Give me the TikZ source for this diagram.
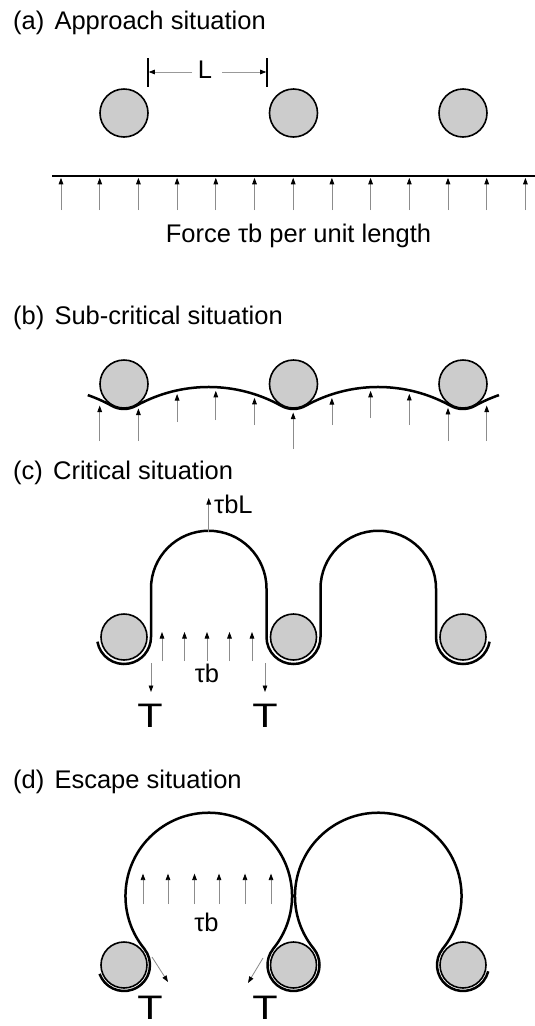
\documentclass[tikz,border=0pt]{standalone}
\usepackage{fontspec}
\setmainfont{Liberation Sans}
\usetikzlibrary{arrows.meta}
\begin{document}
\begin{tikzpicture}[x=1pt,y=1pt,
  obst/.style={circle,draw=black,line width=1.6pt,fill=black!20,minimum size=#1,inner sep=0pt},
  obst/.default=48pt,
  disl/.style={line width=2.5pt},
  force/.style={draw=black!45,line width=0.8pt,-{Triangle[length=6.5pt,width=4.6pt,color=black]}},
  dimarrow/.style={draw=black!40,line width=0.7pt,-{Triangle[length=6pt,width=4.6pt,color=black]}},
  title/.style={anchor=base west,font=\fontsize{25.5}{30}\selectfont,inner sep=0pt},
  lab/.style={anchor=base,font=\fontsize{25.5}{30}\selectfont,inner sep=0pt},
  tlabel/.style={anchor=base,font=\fontsize{34}{38}\selectfont,inner sep=0pt},
]
\clip (0,0) rectangle (535,-1026);
\fill[white] (0,0) rectangle (535,-1026);

% ---------------- (a) ----------------
\node[title] (ta) at (13,-29) {(a)\hspace{0.4em}Approach situation};
\node[obst] (a1) at (124,-113) {};
\node[obst] (a2) at (293.5,-113) {};
\node[obst] (a3) at (463,-113) {};
\coordinate (lineL) at (52,-176);
\coordinate (lineR) at (536,-176);
\draw[line width=2.5pt] (lineL) -- (lineR);
\foreach \k in {0,...,12}
  \draw[force] ({61+38.7*\k},-210) -- ({61+38.7*\k},-177.8);
\coordinate (tl1) at (148,-58); \coordinate (tl2) at (148,-87);
\coordinate (tr1) at (267,-58); \coordinate (tr2) at (267,-87);
\draw[line width=1.3pt] (tl1) -- (tl2);
\draw[line width=1.3pt] (tr1) -- (tr2);
\node[lab] (L) at (205,-78) {L};
\draw[dimarrow] (192,-72) -- (148.8,-72);
\draw[dimarrow] (222,-72) -- (266.2,-72);
\node[lab] (fa) at (298.5,-242) {Force τb per unit length};

% ---------------- (b) ----------------
\node[title] (tb) at (13,-324.6) {(b)\hspace{0.4em}Sub-critical situation};
\node[obst] (b1) at (124,-384) {};
\node[obst] (b2) at (293.5,-384) {};
\node[obst] (b3) at (463,-384) {};
\draw[disl] (87.8,-395.1)
  arc[start angle=71,end angle=60.9,radius=149.2]
  arc[start angle=-119.1,end angle=-60.9,radius=25]
  arc[start angle=119.1,end angle=60.9,radius=149.2]
  arc[start angle=-119.1,end angle=-60.9,radius=25]
  arc[start angle=119.1,end angle=60.9,radius=149.2]
  arc[start angle=-119.1,end angle=-60.9,radius=25]
  arc[start angle=119.1,end angle=109,radius=149.2];
\foreach \x/\h/\t in {99.7/405.5/441, 138.4/408.5/441, 177.1/394/422, 215.8/390.8/420,
   254.5/397.8/425, 293.2/412.5/449, 331.9/398/425, 370.6/390.8/418,
   409.3/393.9/425, 448/407.9/441, 486.7/405.5/441}
  \draw[force] (\x,-\t) -- (\x,-\h);

% ---------------- (c) ----------------
\node[title] (tc) at (13,-479) {(c)\hspace{0.4em}Critical situation};
\node[obst=46pt] (c1) at (124,-637) {};
\node[obst=46pt] (c2) at (293.5,-637) {};
\node[obst=46pt] (c3) at (463,-637) {};
\draw[disl] (97.41,-641.69)
  arc[start angle=190,end angle=360,radius=27] -- (151,-588.5)
  arc[start angle=180,end angle=0,radius=57.75] -- (266.5,-637)
  arc[start angle=180,end angle=360,radius=27] -- (320.5,-588.5)
  arc[start angle=180,end angle=0,radius=57.75] -- (436,-637)
  arc[start angle=180,end angle=350,radius=27];
\foreach \x in {162,184.5,207,229.5,252}
  \draw[force] (\x,-661) -- (\x,-632);
\draw[force] (208.75,-532) -- (208.75,-498);
\node[anchor=base west,font=\fontsize{25.5}{30}\selectfont,inner sep=0pt] (tbl) at (214,-513) {τbL};
\node[lab] (tbc) at (207,-682) {τb};
\draw[force] (151,-663) -- (151,-692);
\draw[force] (265,-663) -- (265,-692);
\node[tlabel] (T1) at (150,-727) {\scalebox{1.22}[1]{T}};
\node[tlabel] (T2) at (265,-727) {\scalebox{1.22}[1]{T}};

% ---------------- (d) ----------------
\node[title] (td) at (13,-788) {(d)\hspace{0.4em}Escape situation};
\node[obst=46pt] (d1) at (124,-965) {};
\node[obst=46pt] (d2) at (293.5,-965) {};
\node[obst=46pt] (d3) at (463,-965) {};
\draw[disl] (99.57,-973.89)
  arc[start angle=200,end angle=399.15,radius=26]
  arc[start angle=219.15,end angle=-39.15,radius=83.29]
  arc[start angle=140.85,end angle=399.15,radius=26]
  arc[start angle=219.15,end angle=-39.15,radius=83.29]
  arc[start angle=140.85,end angle=346,radius=26];
\foreach \x in {143,168,194.5,219,245,271}
  \draw[force] (\x,-904) -- (\x,-873.6);
\node[lab] (tbd) at (206.5,-931) {τb};
\draw[force] (152,-957) -- (168,-982);
\draw[force] (263,-958) -- (248,-983);
\node[tlabel] (T3) at (150,-1019) {\scalebox{1.22}[1]{T}};
\node[tlabel] (T4) at (265,-1019) {\scalebox{1.22}[1]{T}};
\end{tikzpicture}
\end{document}
